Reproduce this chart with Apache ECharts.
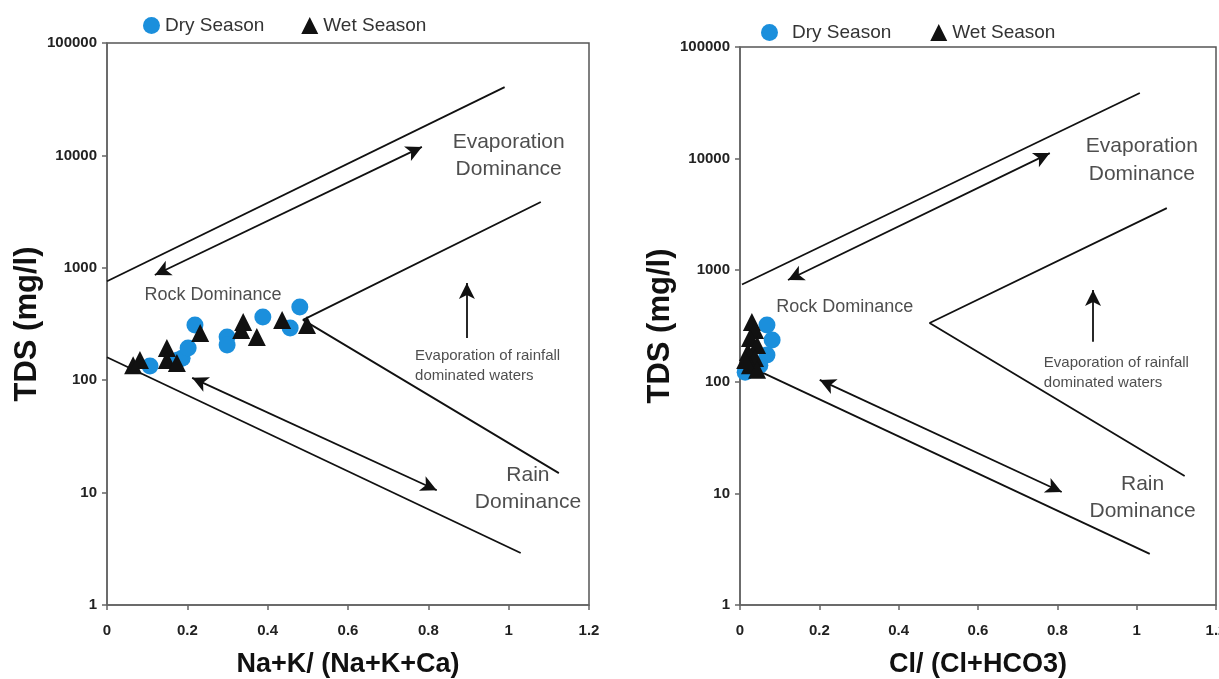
<!DOCTYPE html>
<html>
<head>
<meta charset="utf-8">
<title>Gibbs diagram</title>
<script src="https://cdn.jsdelivr.net/npm/echarts@6/dist/echarts.min.js"></script>
<style>
    html, body { margin: 0; padding: 0; background: #fff; }
    #chart { width: 1219px; height: 679px; }
</style>
</head>
<body>
<div id="chart"></div>
<script>
// x ticks / y ticks
var xTicks = [0, 0.2, 0.4, 0.6, 0.8, 1, 1.2];
var yTicks = [1, 10, 100, 1000, 10000, 100000];

// left panel: Na+K/(Na+K+Ca) vs TDS
var dryLeft = [[0.107, 134], [0.177, 151], [0.187, 157], [0.202, 193], [0.219, 310], [0.299, 242], [0.299, 206], [0.388, 365], [0.456, 291], [0.480, 448]];
var wetLeft = [[0.065, 136], [0.082, 151], [0.149, 193], [0.149, 151], [0.174, 142], [0.232, 263], [0.339, 330], [0.334, 280], [0.373, 242], [0.436, 343], [0.498, 310]];

// right panel: Cl/(Cl+HCO3) vs TDS
var dryRight = [[0.068, 323], [0.081, 237], [0.068, 174], [0.050, 141], [0.013, 122], [0.030, 151]];
var wetRight = [[0.030, 344], [0.038, 291], [0.025, 247], [0.043, 214], [0.020, 185], [0.038, 163], [0.025, 141], [0.043, 128], [0.013, 157]];

// Gibbs boundary lines
var leftUpper = [[0, 760], [0.99, 40500]];
var leftV = [[1.08, 3850], [0.488, 344], [1.125, 14.9]];
var leftLower = [[0, 160], [1.03, 2.9]];
var rightUpper = [[0.005, 745], [1.008, 38700]];
var rightV = [[1.076, 3600], [0.478, 336], [1.121, 14.3]];
var rightLower = [[0, 150], [1.033, 2.87]];

// arrows (from, to)
var leftArrows = [[[0.119, 863], [0.784, 11900]], [[0.212, 105], [0.821, 10.5]]];
var leftRise = [[0.896, 237], [0.896, 733]];
var rightArrows = [[[0.121, 817], [0.781, 11200]], [[0.201, 104], [0.811, 10.3]]];
var rightRise = [[0.89, 228], [0.89, 665]];

// labels
var evapText = 'Evaporation\nDominance';
var rockText = 'Rock Dominance';
var rainfallText = 'Evaporation of rainfall\ndominated waters';
var rainText = 'Rain\nDominance';
var leftLabelAt = [[1.0, 10000], [0.264, 573], [0.767, 134], [1.048, 10.8]];
var rightLabelAt = [[1.013, 9700], [0.264, 468], [0.766, 120], [1.015, 9.1]];

var chart = echarts.init(document.getElementById('chart'));
var font = "'Liberation Sans', Arial, sans-serif";

function xAxisOf(idx, name) {
    return {
        type: 'value', gridIndex: idx, min: 0, max: 1.2, interval: 0.2,
        name: name, nameLocation: 'middle', nameGap: 46,
        nameTextStyle: { fontSize: 27, fontWeight: 'bold', color: '#111', fontFamily: font },
        axisLine: { show: true, lineStyle: { color: '#666', width: 1.5 } },
        axisTick: { show: true, inside: false, length: 5, lineStyle: { color: '#666', width: 1.5 } },
        axisLabel: { fontSize: 15, fontWeight: 'bold', color: '#222', margin: 18, fontFamily: font },
        splitLine: { show: false }
    };
}
function yAxisOf(idx) {
    return {
        type: 'log', logBase: 10, gridIndex: idx, min: yTicks[0], max: yTicks[yTicks.length - 1],
        name: 'TDS (mg/l)', nameLocation: 'middle', nameGap: 58,
        nameTextStyle: { fontSize: 31, fontWeight: 'bold', color: '#111', fontFamily: font },
        axisLine: { show: true, lineStyle: { color: '#666', width: 1.5 } },
        axisTick: { show: true, inside: false, length: 5, lineStyle: { color: '#666', width: 1.5 } },
        axisLabel: {
            fontSize: 15, fontWeight: 'bold', color: '#222', margin: 10, fontFamily: font,
            formatter: function (v) { return String(Math.round(v)); }
        },
        splitLine: { show: false },
        minorTick: { show: false }
    };
}
function lineSeries(idx, pts) {
    return {
        type: 'line', xAxisIndex: idx, yAxisIndex: idx, data: pts, symbol: 'none',
        silent: true, lineStyle: { color: '#111', width: 1.8 }, z: 3
    };
}
function arrowSeries(idx, arrows, rise) {
    var d = arrows.map(function (a) { return [{ coord: a[0] }, { coord: a[1] }]; });
    return {
        type: 'line', xAxisIndex: idx, yAxisIndex: idx, data: [], symbol: 'none',
        markLine: {
            silent: true, symbol: ['arrow', 'arrow'], symbolSize: [12, 16],
            lineStyle: { color: '#111', width: 1.8, type: 'solid' },
            label: { show: false },
            data: d.concat([[{ coord: rise[0], symbol: 'none' }, { coord: rise[1] }]])
        }
    };
}
function textSeries(idx, at, txt, size, pos, align) {
    return {
        type: 'scatter', xAxisIndex: idx, yAxisIndex: idx, symbolSize: 0, silent: true,
        data: [at],
        label: {
            show: true, position: pos, distance: 0, align: align,
            formatter: txt, fontSize: size, color: '#222', fontFamily: font, lineHeight: size * 1.3
        }
    };
}
function panel(idx, dry, wet, upper, v, lower, arrows, rise, at) {
    return [
        lineSeries(idx, upper), lineSeries(idx, v), lineSeries(idx, lower),
        arrowSeries(idx, arrows, rise),
        textSeries(idx, at[0], evapText, 21, 'inside', 'center'),
        textSeries(idx, at[1], rockText, 18, 'inside', 'center'),
        textSeries(idx, at[2], rainfallText, 15, 'right', 'left'),
        textSeries(idx, at[3], rainText, 21, 'inside', 'center'),
        {
            name: 'Dry Season', type: 'scatter', xAxisIndex: idx, yAxisIndex: idx, data: dry,
            symbol: 'circle', symbolSize: 17, itemStyle: { color: '#1b8fdc', opacity: 1 }, z: 4
        },
        {
            name: 'Wet Season', type: 'scatter', xAxisIndex: idx, yAxisIndex: idx, data: wet,
            symbol: 'triangle', symbolSize: 18, itemStyle: { color: '#111', opacity: 1 }, z: 5
        }
    ];
}

var option = {
    animation: false,
    backgroundColor: '#fff',
    textStyle: { fontFamily: font },
    legend: [
        { data: [{ name: 'Dry Season', icon: 'circle' }, { name: 'Wet Season', icon: 'triangle' }],
          left: 138, top: 11, itemWidth: 17, itemHeight: 17, itemGap: 37,
          textStyle: { fontSize: 19, color: '#333', fontFamily: font } },
        { data: [{ name: 'Dry Season', icon: 'circle', textStyle: { padding: [0, 0, 0, 9] } },
                 { name: 'Wet Season', icon: 'triangle' }],
          left: 756, top: 18, itemWidth: 17, itemHeight: 17, itemGap: 39,
          textStyle: { fontSize: 19, color: '#333', fontFamily: font } }
    ],
    grid: [
        { left: 107, right: 630, top: 43, bottom: 74, outerBoundsMode: 'none', show: true, borderColor: '#555', borderWidth: 1.5, backgroundColor: 'transparent' },
        { left: 740, right: 3, top: 47, bottom: 74, outerBoundsMode: 'none', show: true, borderColor: '#555', borderWidth: 1.5, backgroundColor: 'transparent' }
    ],
    xAxis: [xAxisOf(0, 'Na+K/ (Na+K+Ca)'), xAxisOf(1, 'Cl/ (Cl+HCO3)')],
    yAxis: [yAxisOf(0), yAxisOf(1)],
    series: panel(0, dryLeft, wetLeft, leftUpper, leftV, leftLower, leftArrows, leftRise, leftLabelAt)
        .concat(panel(1, dryRight, wetRight, rightUpper, rightV, rightLower, rightArrows, rightRise, rightLabelAt))
};
chart.setOption(option);
</script>
</body>
</html>
